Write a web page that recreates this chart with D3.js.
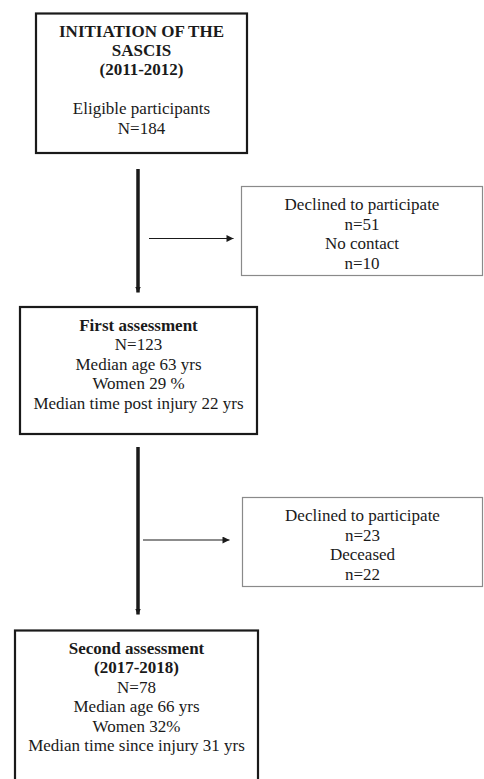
<!DOCTYPE html>
<html>
<head>
<meta charset="utf-8">
<script src="https://cdn.jsdelivr.net/npm/d3@7"></script>
<style>
  body { margin: 0; background: #fff; }
  svg { display: block; }
</style>
</head>
<body>
<div class="chart"></div>
<script>
// box contents (text lines, "" = blank line, bold flag per line)
const startLines = ["INITIATION OF THE", "SASCIS", "(2011-2012)", "", "Eligible participants", "N=184"];
const startBold = [true, true, true, false, false, false];
const exclusion1Lines = ["Declined to participate", "n=51", "No contact", "n=10"];
const firstLines = ["First assessment", "N=123", "Median age 63 yrs", "Women 29 %", "Median time post injury 22 yrs"];
const firstBold = [true, false, false, false, false];
const exclusion2Lines = ["Declined to participate", "n=23", "Deceased", "n=22"];
const secondLines = ["Second assessment", "(2017-2018)", "N=78", "Median age 66 yrs", "Women 32%", "Median time since injury 31 yrs"];
const secondBold = [true, true, false, false, false, false];

const width = 484, height = 779;
const lineH = 19.4;

const svg = d3.select(".chart")
  .append("svg")
  .attr("width", width)
  .attr("height", height);

const defs = svg.append("defs");
defs.append("marker")
  .attr("id", "headV")
  .attr("viewBox", "0 0 10 10")
  .attr("refX", 10).attr("refY", 5)
  .attr("markerUnits", "userSpaceOnUse")
  .attr("markerWidth", 6).attr("markerHeight", 7)
  .attr("orient", "auto")
  .append("path").attr("d", "M0,0L10,5L0,10Z").attr("fill", "#1a1a1a");
defs.append("marker")
  .attr("id", "headH")
  .attr("viewBox", "0 0 10 10")
  .attr("refX", 10).attr("refY", 5)
  .attr("markerUnits", "userSpaceOnUse")
  .attr("markerWidth", 9).attr("markerHeight", 7)
  .attr("orient", "auto")
  .append("path").attr("d", "M0,0L10,5L0,10Z").attr("fill", "#1a1a1a");

// layout of the boxes
const boxes = [
  {lines: startLines, bold: startBold, x0: 36, y0: 13.5, x1: 247, y1: 153, firstY: 30.7, main: true},
  {lines: exclusion1Lines, bold: [], x0: 241.5, y0: 186.5, x1: 482.5, y1: 275.5, firstY: 204.5, main: false},
  {lines: firstLines, bold: firstBold, x0: 20, y0: 307, x1: 257, y1: 434, firstY: 325, main: true},
  {lines: exclusion2Lines, bold: [], x0: 242.5, y0: 497.5, x1: 482.5, y1: 586.5, firstY: 515.5, main: false},
  {lines: secondLines, bold: secondBold, x0: 15, y0: 630.5, x1: 258, y1: 800, firstY: 648, main: true}
];

const g = svg.selectAll("g.box")
  .data(boxes)
  .join("g")
  .attr("class", "box");

g.append("rect")
  .attr("x", d => d.x0)
  .attr("y", d => d.y0)
  .attr("width", d => d.x1 - d.x0)
  .attr("height", d => d.y1 - d.y0)
  .attr("fill", "#fff")
  .attr("stroke", d => d.main ? "#1a1a1a" : "#8a8a8a")
  .attr("stroke-width", d => d.main ? 2.2 : 1.2);

g.each(function(d) {
  const cx = (d.x0 + d.x1) / 2;
  d3.select(this).selectAll("text")
    .data(d.lines.map((t, i) => ({t, i, bold: !!d.bold[i]})).filter(l => l.t !== ""))
    .join("text")
    .attr("x", cx)
    .attr("y", l => d.firstY + l.i * lineH)
    .attr("dy", "0.35em")
    .attr("text-anchor", "middle")
    .attr("font-family", "'Liberation Serif', 'Times New Roman', serif")
    .attr("font-size", 17)
    .attr("font-weight", l => l.bold ? "bold" : "normal")
    .attr("fill", "#1a1a1a")
    .text(l => l.t);
});

// connectors
const arrows = [
  {x1: 138, y1: 169, x2: 138, y2: 292.5, w: 3.5, m: "headV"},
  {x1: 138, y1: 447, x2: 138, y2: 614.5, w: 3.5, m: "headV"},
  {x1: 149, y1: 238.5, x2: 233.5, y2: 238.5, w: 1.2, m: "headH"},
  {x1: 143, y1: 540, x2: 229.5, y2: 540, w: 1.2, m: "headH"}
];

svg.selectAll("line.arrow")
  .data(arrows)
  .join("line")
  .attr("class", "arrow")
  .attr("x1", d => d.x1).attr("y1", d => d.y1)
  .attr("x2", d => d.x2).attr("y2", d => d.y2)
  .attr("stroke", "#1a1a1a")
  .attr("stroke-width", d => d.w)
  .attr("marker-end", d => `url(#${d.m})`);
</script>
</body>
</html>
